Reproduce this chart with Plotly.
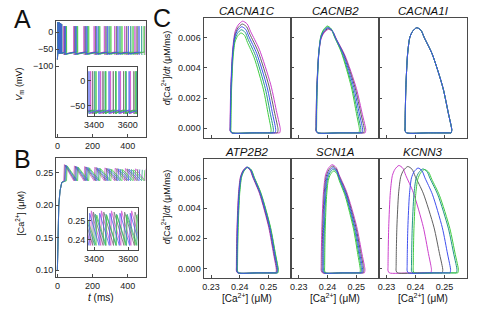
import plotly.graph_objects as go

W, H = 479, 314
FONT = "Liberation Sans"

# ---------------- data ----------------
SERIES = ["s1", "s2", "s3", "s4", "s5"]
COLORS = ["#cc3fcc", "#606060", "#3f50ee", "#239488", "#3fcc3f"]
DRAW_ORDER = [0, 1, 3, 4, 2]   # blue drawn last (on top)

# Panel A/B: spike times (ms) of each series, main window 0-500 ms
SPIKES_MAIN = [
    [36, 93, 151, 209, 267, 325, 383, 441, 499],
    [40, 99, 158, 217, 276, 335, 394, 453],
    [44, 104, 164, 224, 284, 344, 404, 464],
    [48, 110, 171, 233, 294, 356, 417, 479],
    [52, 115, 178, 241, 304, 367, 430, 493],
]
# inset window ~3365-3655 ms
SPIKES_INSET = [
    [3322, 3380, 3439, 3498, 3557, 3616, 3675],
    [3331, 3392, 3453, 3514, 3575, 3636, 3697],
    [3310, 3370, 3429, 3489, 3548, 3608, 3668],
    [3342, 3404, 3466, 3528, 3590, 3652, 3714],
    [3350, 3412, 3470, 3530, 3586, 3646, 3705],
]
BURST_T = [3, 5, 7, 9, 12, 15, 19, 24]
BURST_PEAK = [30, 30, 30, 29, 28, 27, 25, 24]
V_START = -80
V_PEAK = 18
V_AHP = -64
V_PRE = -58

INIT_T = [0, 3, 8, 15, 25]
INIT_CA = [0.100, 0.155, 0.200, 0.222, 0.235]
CA_PEAKS_MAIN = [
    [0.2625, 0.2605, 0.2595, 0.2585, 0.2575, 0.2570, 0.2565, 0.2560, 0.2560],
    [0.2620, 0.2600, 0.2590, 0.2580, 0.2570, 0.2565, 0.2560, 0.2555],
    [0.2615, 0.2595, 0.2585, 0.2575, 0.2565, 0.2560, 0.2555, 0.2550],
    [0.2610, 0.2590, 0.2580, 0.2570, 0.2560, 0.2555, 0.2550, 0.2545],
    [0.2605, 0.2585, 0.2575, 0.2565, 0.2555, 0.2550, 0.2545, 0.2540],
]
CA_TROUGH_MAIN = 0.2375
CA_PEAK_INSET = [0.2555, 0.2548, 0.2542, 0.2537, 0.2532]
CA_TROUGH_INSET = 0.2367

# Panel C: normalized loop outline (u across, v up)
LOOP_U = [0.000, 0.000, 0.004, 0.016, 0.053, 0.100, 0.160, 0.250, 0.340, 0.410,
          0.580, 0.810, 0.930, 0.985, 1.000, 0.985, 0.950, 0.500, 0.030, 0.000]
LOOP_V = [0.020, 0.060, 0.200, 0.430, 0.750, 0.906, 0.965, 1.000, 0.975, 0.906,
          0.750, 0.430, 0.180, 0.070, 0.030, 0.000, 0.000, 0.000, 0.000, 0.020]
LOOP_BOTTOM = -0.0003

GENES = ["CACNA1C", "CACNB2", "CACNA1I", "ATP2B2", "SCN1A", "KCNN3"]
CA_LEFT = [
    [0.2366, 0.2367, 0.2367, 0.2368, 0.2369],
    [0.2360, 0.2360, 0.2361, 0.2361, 0.2362],
    [0.2364, 0.2364, 0.2364, 0.2364, 0.2364],
    [0.2388, 0.2389, 0.2390, 0.2391, 0.2392],
    [0.2378, 0.2381, 0.2384, 0.2387, 0.2390],
    [0.2305, 0.2333, 0.2371, 0.2386, 0.2392],
]
CA_RIGHT = [
    [0.2541, 0.2533, 0.2525, 0.2517, 0.2509],
    [0.2533, 0.2528, 0.2522, 0.2516, 0.2511],
    [0.2525, 0.2525, 0.2525, 0.2525, 0.2525],
    [0.2527, 0.2529, 0.2531, 0.2533, 0.2534],
    [0.2530, 0.2526, 0.2522, 0.2518, 0.2514],
    [0.2455, 0.2494, 0.2521, 0.2543, 0.2548],
]
DCA_PEAK = [
    [0.00709, 0.00690, 0.00672, 0.00652, 0.00631],
    [0.00655, 0.00660, 0.00666, 0.00671, 0.00677],
    [0.00666, 0.00666, 0.00666, 0.00666, 0.00666],
    [0.00673, 0.00673, 0.00673, 0.00673, 0.00673],
    [0.00690, 0.00680, 0.00670, 0.00660, 0.00648],
    [0.00685, 0.00678, 0.00668, 0.00662, 0.00658],
]

# ---------------- figure ----------------
fig = go.Figure()


def v_path(spikes, start=False):
    xs, ys = [], []
    if start:
        xs += [0, 1.5]
        ys += [V_START, -70]
        for b, p in zip(BURST_T, BURST_PEAK):
            xs += [b - 0.4, b, b + 0.6]
            ys += [-58, p, -62]
    for s in spikes:
        xs += [s - 0.3, s, s + 0.8, s + 3]
        ys += [V_PRE, V_PEAK, V_AHP - 2, V_AHP]
    return xs, ys


def ca_path(spikes, peaks, trough, init=False):
    xs, ys = [], []
    if init:
        xs += INIT_T
        ys += INIT_CA
    for s, p in zip(spikes, peaks):
        xs += [s, s + 4]
        ys += [trough, p]
    return xs, ys


for i in DRAW_ORDER:
    c = COLORS[i]
    x, y = v_path(SPIKES_MAIN[i], start=True)
    fig.add_trace(go.Scatter(x=x, y=y, xaxis="x", yaxis="y", mode="lines",
                             line=dict(color=c, width=1), opacity=0.8, showlegend=False))
    x, y = v_path(SPIKES_INSET[i])
    fig.add_trace(go.Scatter(x=x, y=y, xaxis="x2", yaxis="y2", mode="lines",
                             line=dict(color=c, width=1), opacity=0.8, showlegend=False))
    x, y = ca_path(SPIKES_MAIN[i], CA_PEAKS_MAIN[i], CA_TROUGH_MAIN, init=True)
    fig.add_trace(go.Scatter(x=x, y=y, xaxis="x3", yaxis="y3", mode="lines",
                             line=dict(color=c, width=0.9), opacity=0.8, showlegend=False))
    x, y = ca_path(SPIKES_INSET[i], [CA_PEAK_INSET[i]] * len(SPIKES_INSET[i]), CA_TROUGH_INSET)
    fig.add_trace(go.Scatter(x=x, y=y, xaxis="x4", yaxis="y4", mode="lines",
                             line=dict(color=c, width=0.9), opacity=0.8, showlegend=False))

for g in range(len(GENES)):
    ax = g + 5
    for i in DRAW_ORDER:
        L, R, P = CA_LEFT[g][i], CA_RIGHT[g][i], DCA_PEAK[g][i]
        xs = [L + u * (R - L) for u in LOOP_U]
        ys = [LOOP_BOTTOM + v * (P - LOOP_BOTTOM) for v in LOOP_V]
        fig.add_trace(go.Scatter(x=xs, y=ys, xaxis=f"x{ax}", yaxis=f"y{ax}", mode="lines",
                                 line=dict(color=COLORS[i], width=1, shape="spline", smoothing=0.7),
                                 showlegend=False))


def dom_x(a, b):
    return [a / W, b / W]


def dom_y(top, bottom):
    return [1 - bottom / H, 1 - top / H]


base = dict(showline=True, mirror=True, linecolor="#4a4a4a", linewidth=1.3,
            ticks="inside", ticklen=3, tickcolor="#4a4a4a", showgrid=False, zeroline=False,
            tickfont=dict(family=FONT, size=9, color="#222"))

layout = {}
# A main
layout["xaxis"] = dict(base, domain=dom_x(52.7, 143), anchor="y", range=[-7, 501],
                       tickvals=[0, 200, 400])
layout["yaxis"] = dict(base, domain=dom_y(20.7, 136.7), anchor="x", range=[-307, 34],
                       tickvals=[0, -50, -100])
# A inset
layout["xaxis2"] = dict(base, domain=dom_x(85, 134.5), anchor="y2", range=[3365, 3655],
                        tickvals=[3400, 3600])
layout["yaxis2"] = dict(base, domain=dom_y(66.7, 116), anchor="x2", range=[-70, 27],
                        tickvals=[0, -50])
# B main
layout["xaxis3"] = dict(base, domain=dom_x(52.7, 143), anchor="y3", range=[-7, 501],
                        tickvals=[0, 200, 400])
layout["yaxis3"] = dict(base, domain=dom_y(158.3, 276.7), anchor="x3", range=[0.0897, 0.2722],
                        tickvals=[0.10, 0.15, 0.20, 0.25], tickformat=".2f")
# B inset
layout["xaxis4"] = dict(base, domain=dom_x(85, 135), anchor="y4", range=[3365, 3655],
                        tickvals=[3400, 3600])
layout["yaxis4"] = dict(base, domain=dom_y(208.3, 250), anchor="x4", range=[0.2342, 0.2569],
                        tickvals=[0.24, 0.25], tickformat=".2f")

cols = [(201.7, 290.3), (290.3, 379), (379, 468.3)]
rows = [(18.3, 137.7), (159, 277.7)]
for g in range(6):
    ax = g + 5
    r, c = divmod(g, 3)
    xa = dict(base, domain=dom_x(*cols[c]), anchor=f"y{ax}", range=[0.2274, 0.2579],
              tickvals=[0.23, 0.24, 0.25], tickformat=".2f", showticklabels=(r == 1))
    ya = dict(base, domain=dom_y(*rows[r]), anchor=f"x{ax}", range=[-0.00062, 0.00728],
              tickvals=[0, 0.002, 0.004, 0.006], tickformat=".3f", showticklabels=(c == 0))
    layout[f"xaxis{ax}"] = xa
    layout[f"yaxis{ax}"] = ya

ann = []


def A(x, y, text, size=10, angle=0, **kw):
    ann.append(dict(x=x / W, y=1 - y / H, xref="paper", yref="paper", text=text,
                    showarrow=False, textangle=angle, xanchor="center", yanchor="middle",
                    font=dict(family=FONT, size=size, color="#111"), **kw))


A(19, 19, "A", 25)
A(19, 159, "B", 25)
A(160, 18, "C", 25)
A(16, 84, "<i>V</i><sub>m</sub> (mV)", 9, -90)
A(16, 213, "[Ca<sup>2+</sup>] (μM)", 9, -90)
A(98, 297, "<i>t</i> (ms)", 10)
A(164, 68, "<i>d</i>[Ca<sup>2+</sup>]/<i>dt</i> (μM/ms)", 9, -90)
A(164, 207, "<i>d</i>[Ca<sup>2+</sup>]/<i>dt</i> (μM/ms)", 9, -90)
for g in range(6):
    r, c = divmod(g, 3)
    cx = (cols[c][0] + cols[c][1]) / 2
    A(cx, [10.5, 151.5][r], f"<i>{GENES[g]}</i>", 11.5)
    if r == 1:
        A(cx, 298, "[Ca<sup>2+</sup>] (μM)", 10)

fig.update_layout(width=W, height=H, margin=dict(l=0, r=0, t=0, b=0),
                  paper_bgcolor="white", plot_bgcolor="white", annotations=ann, **layout)
fig.write_html("out.html", config={"displayModeBar": False},
               post_script="document.body.style.margin='0';document.body.style.overflow='hidden';")
